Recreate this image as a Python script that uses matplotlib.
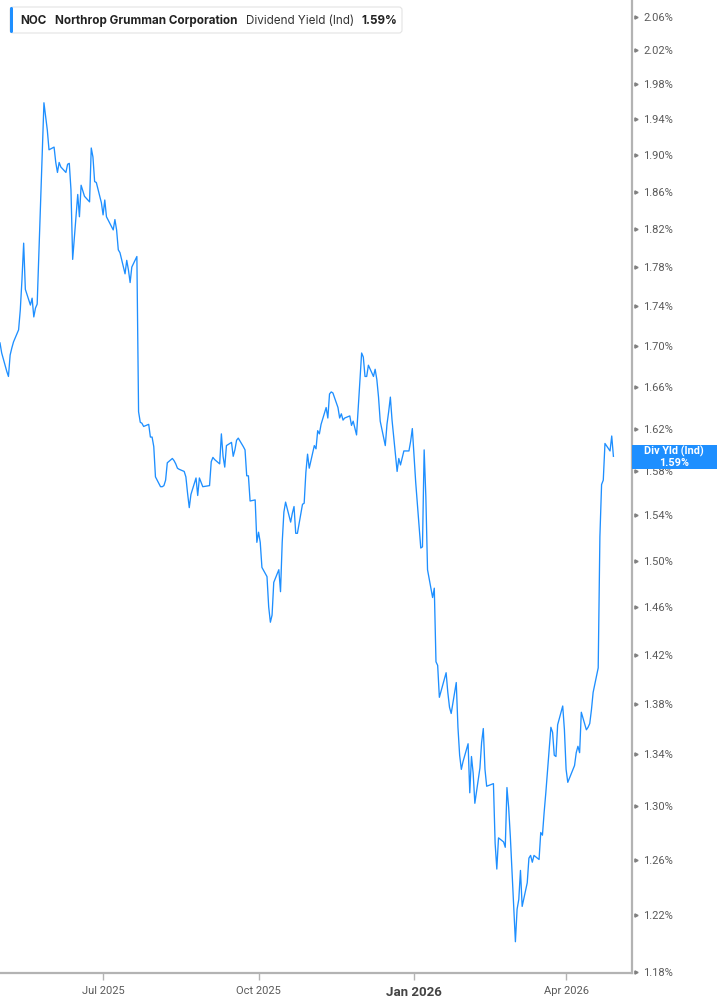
import matplotlib
matplotlib.use("Agg")
import matplotlib.pyplot as plt
from matplotlib.patches import FancyBboxPatch, Rectangle
from matplotlib.transforms import IdentityTransform
import numpy as np
import pandas as pd

# ---------------- data (dividend yield, %) ----------------
ticker = "NOC"
company = "Northrop Grumman Corporation"
metric = "Dividend Yield (Ind)"
last_label = "1.59%"
badge_label = "Div Yld (Ind)"

yield_seg1 = [1.703, 1.693, 1.675, 1.670, 1.691, 1.698, 1.704, 1.716, 1.736, 1.767, 1.805,
              1.757, 1.741, 1.748, 1.729, 1.738, 1.742,
              1.959, 1.943, 1.928, 1.906, 1.909, 1.892, 1.881, 1.892, 1.887, 1.881, 1.890, 1.891,
              1.862, 1.788, 1.857, 1.833, 1.867, 1.855, 1.849, 1.908, 1.898, 1.871, 1.870,
              1.848, 1.835, 1.851, 1.833, 1.819, 1.830, 1.819, 1.798, 1.795, 1.773, 1.787,
              1.777, 1.764, 1.780, 1.791,
              1.636, 1.626, 1.625, 1.622, 1.624, 1.612, 1.612]
yield_seg2 = [1.603, 1.575, 1.566, 1.566, 1.567, 1.572, 1.588, 1.592, 1.590, 1.587,
              1.583, 1.582, 1.580, 1.575, 1.560, 1.547, 1.559, 1.574, 1.558, 1.574,
              1.570, 1.566, 1.567, 1.589, 1.593, 1.591, 1.587, 1.615, 1.594, 1.584,
              1.604, 1.607, 1.594, 1.600, 1.609, 1.611, 1.603, 1.600, 1.576, 1.576,
              1.553, 1.554, 1.516, 1.525, 1.516, 1.494, 1.486, 1.460, 1.447,
              1.453, 1.481, 1.492, 1.473, 1.516, 1.543, 1.552, 1.534, 1.542, 1.548,
              1.524, 1.524]
yield_seg3 = [1.550, 1.551, 1.579, 1.596, 1.583, 1.604, 1.601, 1.618, 1.615, 1.624,
              1.640, 1.630, 1.653, 1.655, 1.654, 1.640, 1.630, 1.634, 1.628, 1.630,
              1.632, 1.623, 1.627, 1.614, 1.693, 1.689, 1.670, 1.670, 1.681, 1.670,
              1.677, 1.667, 1.650, 1.627, 1.604, 1.624, 1.636, 1.650, 1.628, 1.580,
              1.592, 1.586, 1.599, 1.599, 1.608, 1.620]
yield_seg4 = [1.570, 1.511, 1.512, 1.600, 1.557, 1.492, 1.468, 1.476, 1.414, 1.411,
              1.385, 1.405, 1.389, 1.377, 1.372, 1.397, 1.361, 1.339, 1.328, 1.334,
              1.348, 1.310, 1.338, 1.325, 1.302, 1.329, 1.349, 1.360, 1.328, 1.315,
              1.317, 1.272, 1.253, 1.276, 1.273, 1.269, 1.314, 1.299, 1.277]
yield_seg5 = [1.201, 1.224, 1.231, 1.252, 1.226, 1.243, 1.261, 1.263, 1.258, 1.263,
              1.260, 1.280, 1.278, 1.295, 1.310, 1.361, 1.357, 1.339, 1.338, 1.363,
              1.378, 1.359, 1.328, 1.318, 1.331, 1.341, 1.346, 1.341, 1.373, 1.359,
              1.361, 1.364, 1.375, 1.389, 1.409, 1.521, 1.568, 1.572, 1.606,
              1.599, 1.613, 1.594]

market_holidays = ["2025-05-26", "2025-06-19", "2025-07-04", "2025-09-01", "2025-11-27",
                   "2025-12-25", "2026-01-01", "2026-01-19", "2026-02-16", "2026-04-03"]
start_date = "2025-05-01"

y_ticks = [1.18, 1.22, 1.26, 1.30, 1.34, 1.38, 1.42, 1.46, 1.50, 1.54, 1.58, 1.62,
           1.66, 1.70, 1.74, 1.78, 1.82, 1.86, 1.90, 1.94, 1.98, 2.02, 2.06]
x_tick_dates = ["2025-07-01", "2025-10-01", "2026-01-01", "2026-04-01"]
x_tick_labels = ["Jul 2025", "Oct 2025", "Jan 2026", "Apr 2026"]

values = np.array(yield_seg1 + yield_seg2 + yield_seg3 + yield_seg4 + yield_seg5)
dates = pd.bdate_range(start=start_date, periods=len(values), freq="C",
                       holidays=market_holidays)

# ---------------- figure ----------------
W, H = 717, 1005
fig = plt.figure(figsize=(W / 100, H / 100), dpi=100)
fig.patch.set_facecolor("white")

ax = fig.add_axes([0, (H - 973) / H, 632 / W, 973 / H])
ax.set_facecolor("white")

line_color = "#1E8FFF"
ax.plot(dates, values, color=line_color, lw=0.95)

ax.set_yscale("log")
ax.set_ylim(1.1793, 2.080)
ax.set_xlim(pd.Timestamp("2025-05-01"), pd.Timestamp("2026-05-10"))

# spines
for s in ["top", "left"]:
    ax.spines[s].set_visible(False)
axis_gray = "#b3b3b3"
ax.spines["right"].set_color(axis_gray)
ax.spines["right"].set_linewidth(1.6)
ax.spines["bottom"].set_color(axis_gray)
ax.spines["bottom"].set_linewidth(1.6)

# y axis
ax.yaxis.tick_right()
ax.yaxis.set_minor_locator(matplotlib.ticker.NullLocator())
ax.set_yticks(y_ticks)
ax.set_yticklabels([f"{v:.2f}%" for v in y_ticks])
ax.tick_params(axis="y", which="both", length=0, pad=8, labelsize=8,
               labelcolor="#5a5a5a")
for lab in ax.get_yticklabels():
    lab.set_fontfamily(["Roboto", "DejaVu Sans"])
ax.plot(np.full(len(y_ticks), 1.006), y_ticks, transform=ax.get_yaxis_transform(),
        marker=">", ms=2.3, color="#808080", ls="none", clip_on=False)

# x axis
xt = [pd.Timestamp(d) for d in x_tick_dates]
ax.set_xticks(xt)
ax.set_xticklabels(x_tick_labels)
ax.xaxis.set_minor_locator(matplotlib.ticker.NullLocator())
ax.tick_params(axis="x", length=5, width=1, color=axis_gray, pad=4, labelsize=8,
               labelcolor="#5a5a5a")
for lab in ax.get_xticklabels():
    lab.set_fontfamily(["Roboto", "DejaVu Sans"])
    if lab.get_text() == "Jan 2026":
        lab.set_fontweight("bold")
        lab.set_fontsize(9.5)
        lab.set_color("#444444")

# ---------------- header legend ----------------
px = IdentityTransform()
box = FancyBboxPatch((10, H - 33), 392, 26, boxstyle="round,pad=0,rounding_size=3",
                     transform=px, facecolor="white", edgecolor="#e3e3e3", lw=0.8)
fig.patches.append(box)
bar = FancyBboxPatch((10, H - 33), 3, 26, boxstyle="round,pad=0,rounding_size=1.5",
                     transform=px, facecolor=line_color, edgecolor="none")
fig.patches.append(bar)

ty = 1 - 20.5 / H
hdr_font = ["Inter", "DejaVu Sans"]
fs = 8.4
fig.text(20 / W, ty, ticker, fontsize=fs, fontweight="bold", color="#222222",
         va="center", ha="left", family=hdr_font)
fig.text(55 / W, ty, company, fontsize=fs, fontweight="bold", color="#222222",
         va="center", ha="left", family=hdr_font)
fig.text(246 / W, ty, metric, fontsize=fs, color="#333333",
         va="center", ha="left", family=hdr_font)
fig.text(361 / W, ty, last_label, fontsize=fs, fontweight="bold", color="#222222",
         va="center", ha="left", family=hdr_font)

# ---------------- right value badge ----------------
badge = Rectangle((632, H - 469), 85, 24, transform=px, facecolor=line_color,
                  edgecolor="none")
fig.patches.append(badge)
fig.text(674 / W, 1 - 451.5 / H, badge_label, fontsize=7.8, fontweight="bold",
         color="white", ha="center", va="center", family=["Roboto", "DejaVu Sans"])
fig.text(674 / W, 1 - 462.5 / H, last_label, fontsize=7.8, fontweight="bold",
         color="white", ha="center", va="center", family=["Roboto", "DejaVu Sans"])

fig.savefig("out.png", dpi=100, facecolor="white")
